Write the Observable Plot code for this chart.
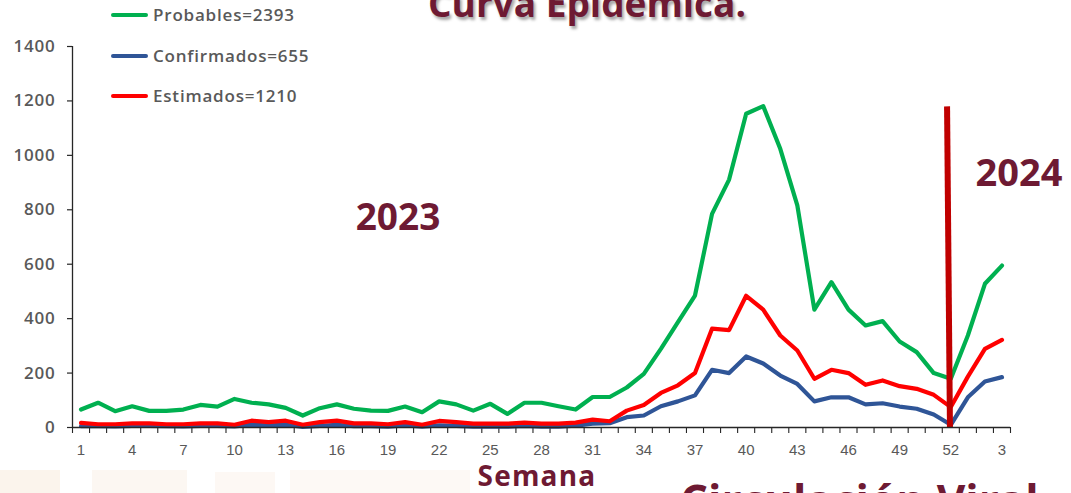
<!DOCTYPE html>
<html>
<head>
<meta charset="utf-8">
<script src="https://cdn.jsdelivr.net/npm/d3@7"></script>
<script src="https://cdn.jsdelivr.net/npm/@observablehq/plot@0.6"></script>
<style>
  html, body { margin: 0; padding: 0; background: #fff; }
  body { width: 1071px; height: 493px; overflow: hidden; position: relative; font-family: "Open Sans", sans-serif; }
  #chart { position: absolute; left: 0; top: 0; }
  .t { position: absolute; white-space: nowrap; }
  .maroon { color: #6E1A33; font-weight: 700; }
  .leg-line { position: absolute; height: 4px; width: 37px; border-radius: 2px; }
  .leg-text { position: absolute; font-size: 17px; font-weight: 600; color: #595959; letter-spacing: 0.8px; line-height: 20px; }
  .wm { position: absolute; background: #fbf4ec; }
  #chart svg g[aria-label="y-axis tick label"] text { letter-spacing: 0.8px; }
</style>
</head>
<body>
<div class="wm" style="left:0;top:470px;width:60px;height:23px;"></div>
<div class="wm" style="left:92px;top:470px;width:95px;height:23px;opacity:0.7"></div>
<div class="wm" style="left:215px;top:472px;width:60px;height:21px;opacity:0.6"></div>
<div class="wm" style="left:290px;top:470px;width:180px;height:23px;opacity:0.5"></div>
<div id="chart"></div>

<div class="t maroon" style="left:587px;top:-15px;transform:translateX(-50%);font-size:37px;line-height:36px;text-shadow:2px 3px 3px rgba(0,0,0,0.35);">Curva Epidémica.</div>

<div class="leg-line" style="left:111px;top:13px;background:#00B050;"></div>
<div class="leg-text" style="left:153px;top:5px;">Probables=2393</div>
<div class="leg-line" style="left:111px;top:54px;background:#2F5597;"></div>
<div class="leg-text" style="left:153px;top:46px;">Confirmados=655</div>
<div class="leg-line" style="left:111px;top:94px;background:#FF0000;"></div>
<div class="leg-text" style="left:153px;top:86px;">Estimados=1210</div>

<div class="t maroon" style="left:398px;top:198px;transform:translateX(-50%);font-size:37px;line-height:36px;">2023</div>
<div class="t maroon" style="left:1019px;top:152px;transform:translateX(-50%);font-size:38px;line-height:38px;">2024</div>
<div class="t maroon" style="left:537px;top:462px;transform:translateX(-50%);font-size:28px;line-height:26px;letter-spacing:1.2px;">Semana</div>
<div class="t maroon" style="left:680px;top:478px;font-size:44px;line-height:44px;">Circulación Viral</div>

<script>
// Week tick labels (2023 weeks 1-52, then 2024 weeks 1-3)
const weekLabels = ["1","2","3","4","5","6","7","8","9","10","11","12","13","14","15","16","17","18","19","20",
  "21","22","23","24","25","26","27","28","29","30","31","32","33","34","35","36","37","38","39","40",
  "41","42","43","44","45","46","47","48","49","50","51","52","1","2","3"];

const probables = [66,91,60,78,61,61,66,83,77,105,91,85,72,44,71,85,69,62,61,77,
  56,96,85,62,87,50,91,91,78,66,112,112,147,197,289,387,485,785,911,1153,
  1181,1024,816,433,534,433,375,391,316,277,200,179,338,528,595];

const confirmados = [5,5,4,6,6,5,4,6,6,4,10,8,10,2,6,10,5,5,3,8,
  3,8,6,3,4,3,6,3,3,7,14,16,38,44,78,96,118,212,200,261,
  235,191,160,96,111,111,85,89,77,69,48,10,111,169,185];

const estimados = [17,12,12,15,15,12,12,15,15,10,25,20,25,10,20,25,15,15,12,20,
  10,24,20,14,14,14,18,14,14,18,29,23,62,83,127,155,200,363,358,484,
  433,338,283,179,212,200,157,173,152,142,120,75,187,289,322];

const yTicks = [0,200,400,600,800,1000,1200,1400];
const labelEvery = 3;
const dividerWeekIndex = 52;
const dividerTop = 1180;

const series = [
  {name: "Probables", values: probables, color: "#00B050"},
  {name: "Confirmados", values: confirmados, color: "#2F5597"},
  {name: "Estimados", values: estimados, color: "#FF0000"}
];

const idx = weekLabels.map((_, i) => i + 1);
const boundaries = [0.5, ...idx.map(i => i + 0.5)];
const labelIdx = idx.filter(i => (i - 1) % labelEvery === 0);

const lineMarks = series.map(s =>
  Plot.line(s.values.map((v, i) => ({i: i + 1, v})), {
    x: "i", y: "v", stroke: s.color, strokeWidth: 4.2,
    strokeLinejoin: "round", strokeLinecap: "round"
  })
);

const chart = Plot.plot({
  width: 1071,
  height: 493,
  marginLeft: 72,
  marginRight: 61,
  marginTop: 46,
  marginBottom: 66,
  style: {background: "transparent", overflow: "visible"},
  x: {type: "linear", domain: [0.5, 55.5]},
  y: {domain: [0, 1400]},
  marks: [
    Plot.axisY({ticks: yTicks, tickSize: 5, tickPadding: 12, label: null, tickFormat: d => String(d),
      fontSize: 17, fontWeight: 600, fontFamily: "Open Sans", fill: "#595959", stroke: "#262626", strokeWidth: 1.2}),
    Plot.axisX({ticks: boundaries, tickSize: 6, tickFormat: () => "", label: null, stroke: "#262626", strokeWidth: 1.1}),
    Plot.axisX({ticks: labelIdx, tickSize: 0, tickPadding: 17, label: null,
      tickFormat: i => weekLabels[i - 1], fontSize: 15, fontFamily: "Liberation Sans", fill: "#595959"}),
    ...lineMarks,
    Plot.link([dividerWeekIndex], {x1: d => d - 0.22, x2: d => d - 0.05, y1: () => dividerTop, y2: () => 0,
      stroke: "#C00000", strokeWidth: 6, strokeLinecap: "butt"}),
    Plot.ruleY([0], {stroke: "#262626", strokeWidth: 1.3}),
    Plot.ruleX([0.5], {stroke: "#262626", strokeWidth: 1.3})
  ]
});

document.getElementById("chart").appendChild(chart);
</script>
</body>
</html>
